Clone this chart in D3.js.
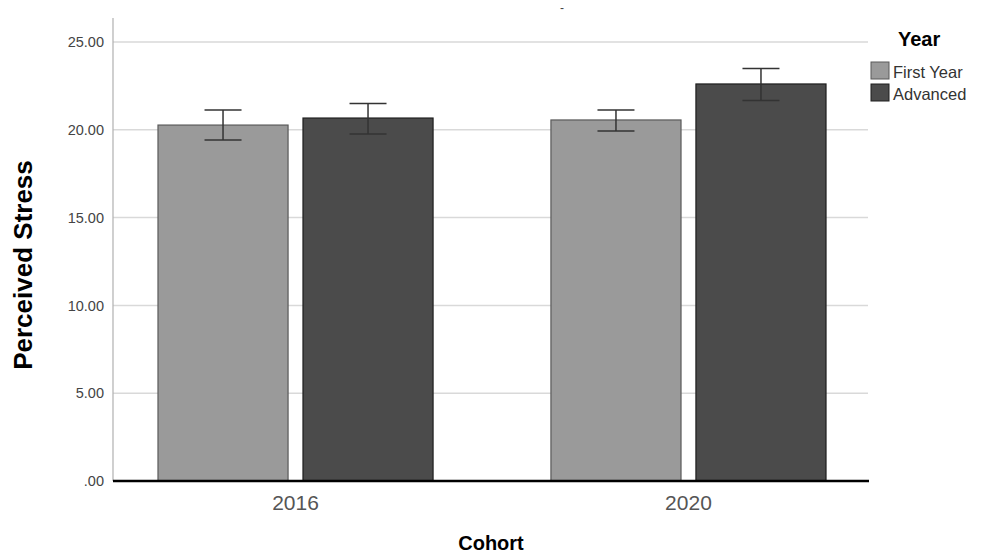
<!DOCTYPE html>
<html><head><meta charset="utf-8">
<script src="https://cdn.jsdelivr.net/npm/d3@7"></script>
<style>body{margin:0;background:#fff}svg{display:block}text{font-family:Arial,"Liberation Sans",sans-serif}</style>
</head><body>
<svg id="c" width="982" height="554"></svg>
<script>
const cohorts = ["2016", "2020"];
const years = ["First Year", "Advanced"];
const means = { "First Year": [20.27, 20.56], "Advanced": [20.67, 22.61] };
const errLow = { "First Year": [19.42, 19.93], "Advanced": [19.76, 21.67] };
const errHigh = { "First Year": [21.13, 21.13], "Advanced": [21.50, 23.49] };
const yTicks = [0, 5, 10, 15, 20, 25];
const yTickLabels = [".00", "5.00", "10.00", "15.00", "20.00", "25.00"];
const colors = { "First Year": "#9a9a9a", "Advanced": "#4b4b4b" };
const strokes = { "First Year": "#5a5a5a", "Advanced": "#1e1e1e" };

const svg = d3.select("#c");
const pLeft = 113, pRight = 869, pTop = 18, pBottom = 481;

const y = d3.scaleLinear().domain([0, 25]).range([pBottom, 42]);
const x = d3.scaleBand().domain(cohorts).range([pLeft, 871]).paddingInner(0.30).paddingOuter(0.1145).align(0.5);
const x1 = d3.scaleBand().domain(years).range([0, x.bandwidth()]).paddingInner(0.103).paddingOuter(0);

// gridlines
svg.append("g").selectAll("line").data(yTicks.filter(d => d > 0)).join("line")
  .attr("x1", pLeft).attr("x2", pRight - 1).attr("y1", d => y(d)).attr("y2", d => y(d))
  .attr("stroke", "#d9d9d9").attr("stroke-width", 1.5);

// y axis
const yAxis = d3.axisLeft(y).tickValues(yTicks).tickFormat((d, i) => yTickLabels[i]).tickSize(0).tickPadding(9);
const ga = svg.append("g").attr("transform", `translate(${pLeft},0)`).call(yAxis);
ga.select(".domain").remove();
ga.selectAll("text").attr("font-size", 14.5).attr("fill", "#444");
svg.append("line").attr("x1", pLeft).attr("x2", pLeft).attr("y1", pTop).attr("y2", pBottom)
  .attr("stroke", "#b0b0b0").attr("stroke-width", 1.2);

// bars
const rows = [];
cohorts.forEach((c, i) => years.forEach(s => rows.push({ c, s, v: means[s][i], lo: errLow[s][i], hi: errHigh[s][i] })));
svg.append("g").selectAll("rect").data(rows).join("rect")
  .attr("x", d => x(d.c) + x1(d.s)).attr("width", x1.bandwidth())
  .attr("y", d => y(d.v)).attr("height", d => y(0) - y(d.v))
  .attr("fill", d => colors[d.s]).attr("stroke", d => strokes[d.s]).attr("stroke-width", 1.2);

// error bars
const eb = svg.append("g").attr("stroke", "#333").attr("stroke-width", 1.5);
rows.forEach(d => {
  const cx = x(d.c) + x1(d.s) + x1.bandwidth() / 2;
  eb.append("line").attr("x1", cx).attr("x2", cx).attr("y1", y(d.hi)).attr("y2", y(d.lo));
  eb.append("line").attr("x1", cx - 18.5).attr("x2", cx + 18.5).attr("y1", y(d.hi)).attr("y2", y(d.hi));
  eb.append("line").attr("x1", cx - 18.5).attr("x2", cx + 18.5).attr("y1", y(d.lo)).attr("y2", y(d.lo));
});

// baseline
svg.append("line").attr("x1", pLeft).attr("x2", pRight).attr("y1", y(0)).attr("y2", y(0))
  .attr("stroke", "#000").attr("stroke-width", 2.5);

// x axis labels
const xAxis = d3.axisBottom(x).tickSize(0).tickPadding(12);
const gx = svg.append("g").attr("transform", `translate(0,${pBottom})`).call(xAxis);
gx.select(".domain").remove();
gx.selectAll("text").attr("font-size", 21).attr("fill", "#555").attr("dy", 0).attr("y", 29);

// titles
svg.append("text").attr("x", 562).attr("y", 12).attr("text-anchor", "middle").attr("font-size", 12).attr("fill", "#444").text("-");
svg.append("text").attr("x", 491).attr("y", 550).attr("text-anchor", "middle").attr("font-size", 20).attr("font-weight", "bold").text("Cohort");
svg.append("text").attr("transform", "translate(32,265) rotate(-90)").attr("text-anchor", "middle")
  .attr("font-size", 26).attr("font-weight", "bold").text("Perceived Stress");

// legend
svg.append("text").attr("x", 898).attr("y", 46).attr("font-size", 20).attr("font-weight", "bold").text("Year");
const lg = svg.append("g").selectAll("g").data(years).join("g")
  .attr("transform", (d, i) => `translate(871,${62 + i * 22})`);
lg.append("rect").attr("width", 18).attr("height", 17).attr("fill", d => colors[d]).attr("stroke", d => strokes[d]).attr("stroke-width", 1);
lg.append("text").attr("x", 22).attr("y", 15.5).attr("font-size", 16.5).attr("fill", "#333").text(d => d);
</script>
</body></html>
